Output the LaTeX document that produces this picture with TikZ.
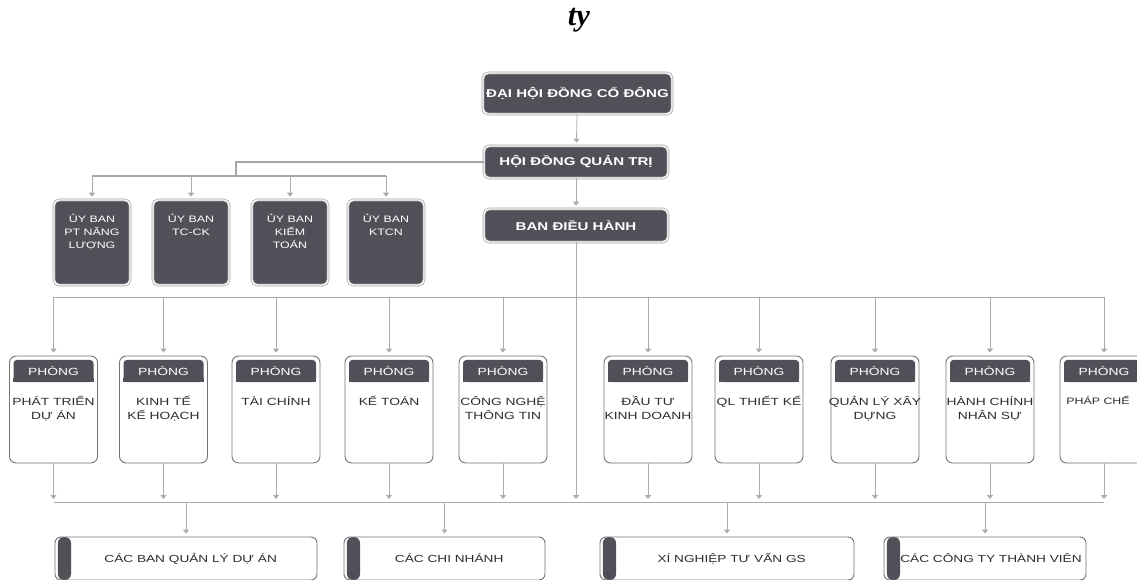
\documentclass[tikz,border=0pt]{standalone}
\usepackage{fontspec}
\usetikzlibrary{arrows.meta,calc}
\newfontfamily\lsans[FakeStretch=1.33]{Liberation Sans}
\newfontfamily\tserif{Liberation Serif}
\definecolor{boxdark}{RGB}{80,80,88}
\definecolor{linegray}{RGB}{172,172,172}
\definecolor{bordergray}{RGB}{115,115,115}
\definecolor{textdark}{RGB}{45,45,45}
\tikzset{
  dbox/.style={rounded corners=4pt, fill=boxdark, draw=gray!75, double=white,
    double distance=1pt, line width=0.5pt, text=white, inner sep=0pt,
    font=\lsans\bfseries\fontsize{8.5}{10}\selectfont},
  ubox/.style={dbox, minimum width=57pt, minimum height=63.75pt},
  utext/.style={text=white, inner sep=0pt, align=center,
    font=\lsans\fontsize{7}{9.75}\selectfont},
  phong/.style={rounded corners=5pt, fill=white, draw=bordergray, line width=0.7pt,
    minimum width=66pt, minimum height=80.25pt, inner sep=0pt},
  phead/.style={rounded corners=2.5pt, fill=boxdark, text=white, inner sep=0pt,
    minimum width=60pt, minimum height=16.5pt, font=\lsans\fontsize{7.8}{9}\selectfont},
  ptext/.style={text=textdark, inner sep=0pt, align=center,
    font=\lsans\fontsize{7.8}{10.5}\selectfont},
  cbox/.style={rounded corners=4.5pt, fill=white, draw=bordergray, line width=0.7pt,
    minimum height=32.25pt, inner sep=0pt, text=textdark,
    font=\lsans\fontsize{7.7}{9}\selectfont,
    path picture={\fill[boxdark] ([xshift=2.2pt]path picture bounding box.north west)
      rectangle ([xshift=12pt]path picture bounding box.south west);}},
  link/.style={draw=linegray, line width=0.6pt},
  blink/.style={draw=gray!70, line width=1pt},
  conn/.style={draw=linegray, line width=0.6pt,
    -{Triangle[width=4.5pt,length=3pt]}, shorten >=2.2pt},
}
\newcommand\phongbox[4][]{%
  \node[phong] (#2) at (#3,409.5) {};
  \node[phead] (#2h) at (#3,371) {PHÒNG};
  \fill[boxdark] (#2h.south west) rectangle ([yshift=3pt]#2h.south east);
  \node[ptext, anchor=north, #1] (#2t) at (#3,396) {#4};
}
\begin{document}
\begin{tikzpicture}[x=0.75pt,y=-0.75pt]
\useasboundingbox (0,0) rectangle (1137,580);

% title
\node[font=\tserif\bfseries\itshape\fontsize{23}{26}\selectfont] (title) at (579,20) {ty};

% top chain
\node[dbox, minimum width=141.75pt, minimum height=30.75pt] (dh) at (577.5,93.5) {ĐẠI HỘI ĐỒNG CỔ ĐÔNG};
\node[dbox, minimum width=138pt, minimum height=24pt] (hd) at (576,162) {HỘI ĐỒNG QUẢN TRỊ};
\node[dbox, minimum width=138pt, minimum height=24.75pt] (bd) at (576,225.5) {BAN ĐIỀU HÀNH};

% committees
\node[ubox] (u1) at (92,242.5) {};
\node[ubox] (u2) at (191,242.5) {};
\node[ubox] (u3) at (290,242.5) {};
\node[ubox] (u4) at (386,242.5) {};
\node[utext, anchor=north] (u1t) at (92,214) {ỦY BAN\\PT NĂNG\\LƯỢNG};
\node[utext, anchor=north] (u2t) at (191,214) {ỦY BAN\\TC-CK};
\node[utext, anchor=north] (u3t) at (290,214) {ỦY BAN\\KIỂM\\TOÁN};
\node[utext, anchor=north] (u4t) at (386,214) {ỦY BAN\\KTCN};

% departments
\phongbox{p1}{53.5}{PHÁT TRIỂN\\DỰ ÁN}
\phongbox{p2}{163.5}{KINH TẾ\\KẾ HOẠCH}
\phongbox{p3}{276}{TÀI CHÍNH}
\phongbox{p4}{389}{KẾ TOÁN}
\phongbox{p5}{503}{CÔNG NGHỆ\\THÔNG TIN}
\phongbox{p6}{648}{ĐẦU TƯ\\KINH DOANH}
\phongbox{p7}{759}{QL THIẾT KẾ}
\phongbox{p8}{875}{QUẢN LÝ XÂY\\DỰNG}
\phongbox{p9}{990}{HÀNH CHÍNH\\NHÂN SỰ}
\phongbox[xshift=-4.5pt, font=\lsans\fontsize{7}{10.5}\selectfont]{p10}{1104}{PHÁP CHẾ}

% bottom units
\node[cbox, minimum width=196.5pt] (c1) at (186,558.5) {\kern7pt CÁC BAN QUẢN LÝ DỰ ÁN};
\node[cbox, minimum width=150.75pt] (c2) at (444.5,558.5) {\kern7pt CÁC CHI NHÁNH};
\node[cbox, minimum width=190.5pt] (c3) at (727,558.5) {\kern7pt XÍ NGHIỆP TƯ VẤN GS};
\node[cbox, minimum width=151.5pt] (c4) at (985,558.5) {\kern9pt CÁC CÔNG TY THÀNH VIÊN};

% bus coordinates
\coordinate (ub) at (236,176);
\coordinate (tb) at (0,297);
\coordinate (bb) at (0,502);

% connectors
\draw[conn] (dh) -- (hd);
\draw[conn] (hd) -- (bd);
\draw[blink] (hd.west) -| (ub);
\draw[blink] (u1 |- ub) -- (u4 |- ub);
\foreach \i in {1,...,4} { \draw[conn] (u\i |- ub) -- (u\i); }

\draw[link] (p1 |- tb) -- (p10 |- tb);
\draw[link] (p1 |- bb) -- (p10 |- bb);
\draw[conn] (bd) -- (bd |- bb);
\foreach \i in {1,...,10} {
  \draw[conn] (p\i |- tb) -- (p\i);
  \draw[conn] (p\i) -- (p\i |- bb);
}
\foreach \i in {1,...,4} { \draw[conn] (c\i |- bb) -- (c\i); }
\end{tikzpicture}
\end{document}
